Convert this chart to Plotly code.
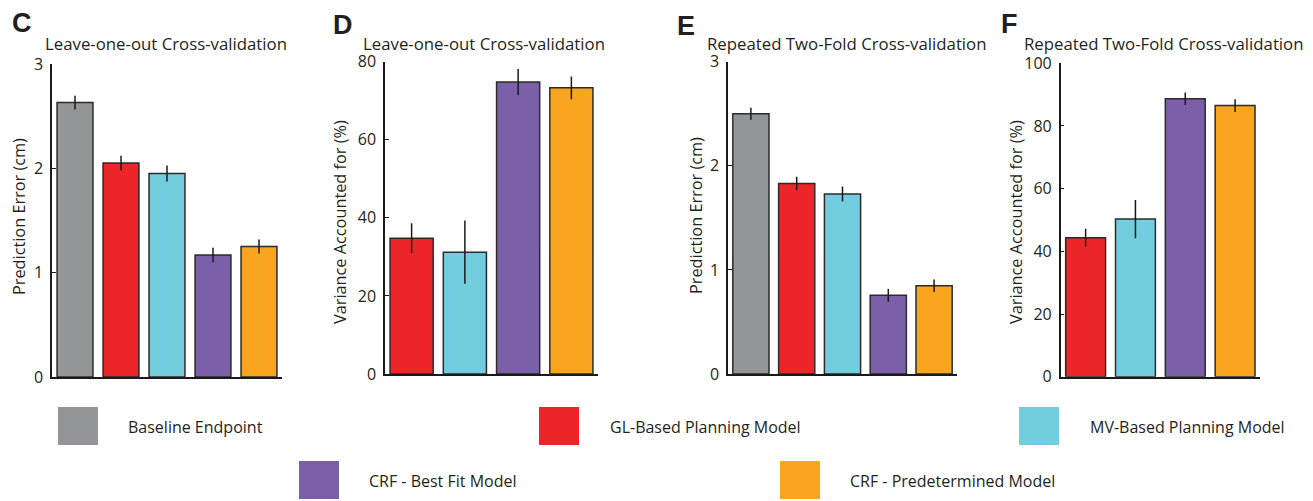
import plotly.graph_objects as go

# ---- data ----
models = ["Baseline Endpoint", "GL-Based Planning Model", "MV-Based Planning Model",
          "CRF - Best Fit Model", "CRF - Predetermined Model"]
colors = ["#939598", "#ec2628", "#72cddf", "#7b5fa8", "#f9a51f"]

# C: leave-one-out, prediction error (cm)
loo_err = [2.63, 2.05, 1.95, 1.17, 1.25]
loo_err_sd = [0.065, 0.07, 0.077, 0.07, 0.067]
# D: leave-one-out, variance accounted for (%) (no baseline)
loo_vaf = [34.8, 31.2, 74.8, 73.3]
loo_vaf_sd = [3.8, 8.1, 3.3, 2.9]
# E: repeated two-fold, prediction error (cm)
rtf_err = [2.50, 1.83, 1.73, 0.756, 0.848]
rtf_err_sd = [0.058, 0.064, 0.072, 0.062, 0.06]
# F: repeated two-fold, variance accounted for (%)
rtf_vaf = [44.3, 50.3, 88.7, 86.5]
rtf_vaf_sd = [2.9, 6.1, 2.0, 2.0]

W, H = 1313, 501
FONT = "Open Sans"
INK = "#231f20"

def px(x):
    return x / W

def py(y):
    return 1 - y / H

fig = go.Figure()

panels = [
    dict(letter="C", title="Leave-one-out Cross-validation", ytitle="Prediction Error (cm)",
         vals=loo_err, sd=loo_err_sd, idx=[0, 1, 2, 3, 4], x0=52, x1=282, ytop=64, ybot=377,
         ymax=3, dtick=1, letter_xy=(22, 23), title_xy=(166, 43), ytitle_xy=(19, 217), bw=0.78),
    dict(letter="D", title="Leave-one-out Cross-validation", ytitle="Variance Accounted for (%)",
         vals=loo_vaf, sd=loo_vaf_sd, idx=[1, 2, 3, 4], x0=385, x1=598, ytop=61.7, ybot=374,
         ymax=80, dtick=20, letter_xy=(343, 25), title_xy=(484, 43), ytitle_xy=(340, 222), bw=0.81),
    dict(letter="E", title="Repeated Two-Fold Cross-validation", ytitle="Prediction Error (cm)",
         vals=rtf_err, sd=rtf_err_sd, idx=[0, 1, 2, 3, 4], x0=728, x1=957, ytop=61.7, ybot=374,
         ymax=3, dtick=1, letter_xy=(686, 26), title_xy=(846, 43), ytitle_xy=(696, 216), bw=0.79),
    dict(letter="F", title="Repeated Two-Fold Cross-validation", ytitle="Variance Accounted for (%)",
         vals=rtf_vaf, sd=rtf_vaf_sd, idx=[1, 2, 3, 4], x0=1060.7, x1=1260, ytop=63.3, ybot=376.7,
         ymax=100, dtick=20, letter_xy=(1009, 24), title_xy=(1163, 43), ytitle_xy=(1016, 222), bw=0.8),
]

def label(text, x, y, size, anchor="center", angle=0, family=FONT):
    return dict(text=text, x=px(x), y=py(y), xref="paper", yref="paper",
                xanchor=anchor, yanchor="middle", showarrow=False, textangle=angle,
                font=dict(family=family, size=size, color=INK))

annotations = []
for k, p in enumerate(panels, start=1):
    xa = "x" if k == 1 else f"x{k}"
    ya = "y" if k == 1 else f"y{k}"
    n = len(p["idx"])
    fig.add_trace(go.Bar(
        x=list(range(n)), y=p["vals"],
        marker=dict(color=[colors[i] for i in p["idx"]],
                    line=dict(color="#2b2b2b", width=1.5)),
        width=p["bw"],
        error_y=dict(type="data", array=p["sd"], visible=True, color="#1a1a1a",
                     thickness=1.5, width=0),
        xaxis=xa, yaxis=ya, showlegend=False, hoverinfo="skip",
    ))
    xkey = "xaxis" if k == 1 else f"xaxis{k}"
    ykey = "yaxis" if k == 1 else f"yaxis{k}"
    fig.update_layout(**{
        xkey: dict(domain=[px(p["x0"]), px(p["x1"])], range=[-0.5, n - 0.5],
                   showticklabels=False, ticks="", showgrid=False, zeroline=False,
                   showline=True, linecolor="#1a1a1a", linewidth=1.5, anchor=ya,
                   fixedrange=True, automargin=False),
        ykey: dict(domain=[py(p["ybot"]), py(p["ytop"])], range=[0, p["ymax"]],
                   dtick=p["dtick"], tick0=0, ticks="inside", ticklen=4,
                   tickcolor="#1a1a1a", tickwidth=1, showgrid=False, zeroline=False,
                   showline=True, linecolor="#1a1a1a", linewidth=1.5, anchor=xa,
                   tickfont=dict(family=FONT, size=16, color=INK),
                   ticklabelstandoff=4, fixedrange=True, automargin=False),
    })
    annotations.append(label(f"<b>{p['letter']}</b>", *p["letter_xy"], 27,
                             family="Liberation Sans"))
    annotations.append(label(p["title"], *p["title_xy"], 16.8))
    annotations.append(label(p["ytitle"], *p["ytitle_xy"], 16.3, angle=-90))

# legend swatches with labels
legend_pos = [(58, 407, 126), (539, 407, 608), (1019, 407, 1088),
              (299, 461, 367), (780, 461, 848)]
shapes = []
for i, (sx, sy, tx) in enumerate(legend_pos):
    shapes.append(dict(type="rect", xref="paper", yref="paper",
                       x0=px(sx), x1=px(sx + 40), y0=py(sy + 38), y1=py(sy),
                       fillcolor=colors[i], line=dict(width=0)))
    annotations.append(label(models[i], tx, sy + 20, 16, anchor="left"))

fig.update_layout(
    width=W, height=H, autosize=False,
    margin=dict(l=0, r=0, t=0, b=0, pad=0, autoexpand=False),
    paper_bgcolor="white", plot_bgcolor="white",
    annotations=annotations, shapes=shapes, bargap=0.2,
)

fig.write_html("out.html", config={"displayModeBar": False},
               post_script="document.body.style.margin='0';")
